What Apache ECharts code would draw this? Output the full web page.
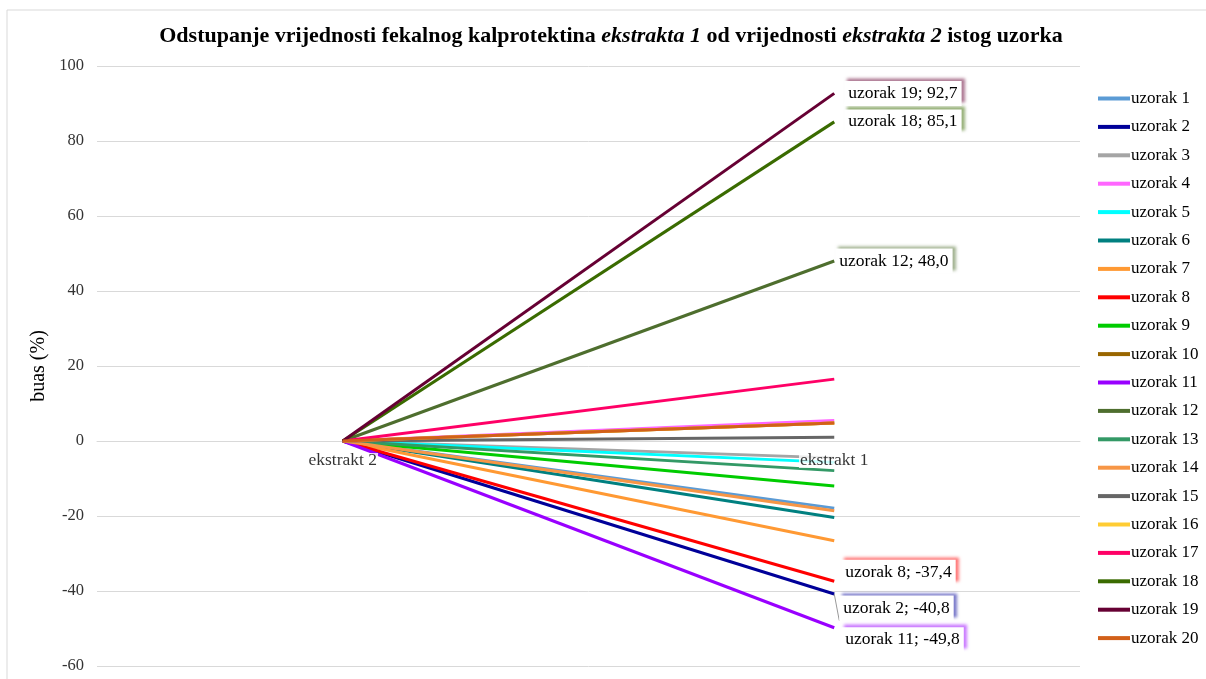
<!DOCTYPE html>
<html><head><meta charset="utf-8">
<script src="https://cdn.jsdelivr.net/npm/echarts@6/dist/echarts.min.js"></script>
<style>html,body{margin:0;padding:0;background:#fff}#c{width:1206px;height:679px}</style>
</head><body><div id="c"></div>
<script>
const categories = ['ekstrakt 2', 'ekstrakt 1'];
const seriesNames = ['uzorak 1','uzorak 2','uzorak 3','uzorak 4','uzorak 5','uzorak 6','uzorak 7','uzorak 8','uzorak 9','uzorak 10',
  'uzorak 11','uzorak 12','uzorak 13','uzorak 14','uzorak 15','uzorak 16','uzorak 17','uzorak 18','uzorak 19','uzorak 20'];
const startValues = [0,0,0,0,0,0,0,0,0,0,0,0,0,0,0,0,0,0,0,0];
const endValues = [-17.9,-40.8,-4.5,5.5,-5.7,-20.4,-26.6,-37.4,-12.0,4.8,
  -49.8,48.0,-7.9,-18.6,1.0,4.8,16.5,85.1,92.7,4.8];
const categoryLabelBase = [0, 0];
const yTicks = [-60,-40,-20,0,20,40,60,80,100];
const labelledSeries = ['uzorak 19','uzorak 18','uzorak 12','uzorak 8','uzorak 2','uzorak 11'];

const colors = ['#5B9BD5','#000099','#A5A5A5','#FF66FF','#00FFFF','#008080','#FF9933','#FF0000','#00CC00','#996600',
  '#9900FF','#4E6E2E','#339966','#F79646','#666666','#FFCC33','#FF0066','#3A6B00','#660033','#D2601A'];
const labelOffsets = {
  'uzorak 19':[6,0], 'uzorak 18':[6,0], 'uzorak 12':[-3,0],
  'uzorak 8':[3,-9], 'uzorak 2':[1,14], 'uzorak 11':[3,12]
};
const serif = '"Liberation Serif","Times New Roman",serif';

const series = seriesNames.map((name, i) => {
  const lab = labelledSeries.includes(name);
  const endItem = { value: endValues[i] };
  if (lab) {
    endItem.label = {
      show: true, position: 'right', distance: 4,
      offset: labelOffsets[name],
      formatter: name + '; ' + endValues[i].toFixed(1).replace('.', ','),
      fontFamily: serif, fontSize: 17.5, color: '#000',
      backgroundColor: '#fff', padding: [4, 4, 3, 4],
      shadowColor: colors[i] + '88', shadowBlur: 3, shadowOffsetX: 3, shadowOffsetY: -3
    };
    if (name === 'uzorak 2') {
      endItem.labelLine = { show: true, lineStyle: { color: '#999', width: 1 } };
    }
  }
  return {
    name, type: 'line', data: [startValues[i], endItem],
    showSymbol: true, symbol: 'circle', symbolSize: 0.01, animation: false,
    lineStyle: { width: 3, color: colors[i] }, itemStyle: { color: colors[i] },
    emphasis: { disabled: true }
  };
});

// category labels drawn at the zero line
series.push({
  name: 'kategorije', type: 'scatter', data: categoryLabelBase, symbolSize: 0.01, z: 10,
  silent: true, animation: false, itemStyle: { color: 'rgba(0,0,0,0)' },
  label: { show: true, position: 'bottom', distance: 12, formatter: '{b}',
    fontFamily: serif, fontSize: 17.5, color: '#000', backgroundColor: '#fff', padding: [0, 1, 0, 1], lineHeight: 15 }
});

const chart = echarts.init(document.getElementById('c'));
chart.setOption({
  animation: false,
  color: colors,
  title: {
    text: 'Odstupanje vrijednosti fekalnog kalprotektina {i|ekstrakta 1} od vrijednosti {i|ekstrakta 2} istog uzorka',
    left: 606, top: 20, textAlign: 'center',
    textStyle: { fontFamily: serif, fontSize: 22, fontWeight: 'bold', color: '#000',
      rich: { i: { fontFamily: serif, fontSize: 22, fontWeight: 'bold', fontStyle: 'italic', color: '#000' } } }
  },
  graphic: [{ type: 'rect', shape: { x: 7, y: 10, width: 1400, height: 900 }, style: { fill: 'none', stroke: '#d9d9d9', lineWidth: 1 }, silent: true }],
  grid: { left: 97, right: 126, top: 66, bottom: 13, containLabel: false, outerBoundsMode: 'none' },
  legend: {
    orient: 'vertical', left: 1098, top: 90, padding: 0, itemWidth: 32, itemHeight: 4, itemGap: 11.4,
    icon: 'rect', data: seriesNames,
    textStyle: { fontFamily: serif, fontSize: 17, color: '#000', padding: [0,0,0,-4], lineHeight: 17 }
  },
  xAxis: {
    type: 'category', data: categories, boundaryGap: true,
    axisLine: { onZero: true, lineStyle: { color: '#d9d9d9', width: 1 } },
    axisTick: { show: false },
    axisLabel: { show: false }
  },
  yAxis: {
    type: 'value', min: -60, max: 100, interval: 20,
    name: 'buas (%)', nameLocation: 'middle', nameGap: 44, nameRotate: 90,
    nameTextStyle: { fontFamily: serif, fontSize: 20, color: '#000' },
    axisLine: { show: false }, axisTick: { show: false },
    splitLine: { lineStyle: { color: '#d9d9d9', width: 1 } },
    axisLabel: { fontFamily: serif, fontSize: 16.5, color: '#333', margin: 13,
      customValues: yTicks }
  },
  series
});
</script></body></html>
